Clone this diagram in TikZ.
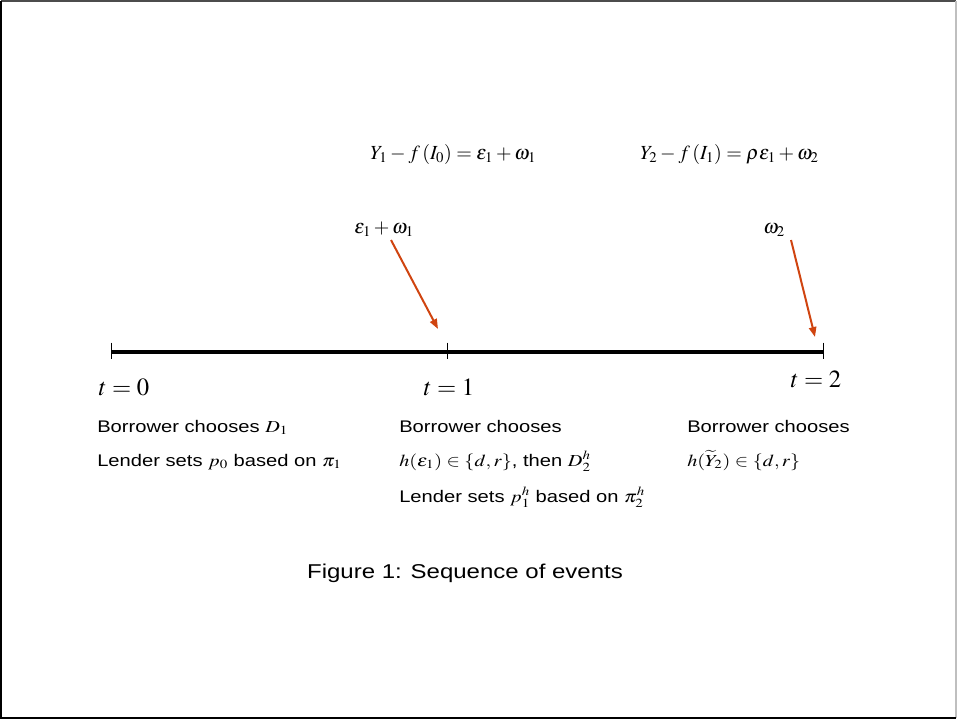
\documentclass[tikz,border=0pt]{standalone}
\usepackage{graphicx}
\usepackage{mathptmx}
\usepackage[no-math]{fontspec}
\setmainfont{Liberation Sans}
\usetikzlibrary{arrows.meta}
\definecolor{arrowred}{RGB}{208,68,16}
\newcommand{\hstretch}[1]{\scalebox{1.2}[1.0]{#1}}
\tikzset{
  body/.style={anchor=base west, inner sep=0pt, font=\fontsize{12.6}{15}\selectfont},
  eqn/.style={anchor=base west, inner sep=0pt, font=\fontsize{15}{18}\selectfont},
  tlabel/.style={anchor=base, inner sep=0pt, font=\fontsize{18.5}{22}\selectfont},
  shock/.style={draw=arrowred, line width=1.5pt, -{Triangle[length=7.5pt,width=5.5pt]}},
  tick/.style={draw=black, line width=0.6pt}
}
\begin{document}
\begin{tikzpicture}[x=0.75pt,y=-0.75pt]
\useasboundingbox (0,0) rectangle (957,719);
\coordinate (c1) at (1,1);
\coordinate (c2) at (956,1);
\coordinate (c3) at (956,718);
\coordinate (c4) at (1,718);
\draw[line width=2pt, black!70] (c1) -- (c2);
\draw[line width=1pt, black!25] (c2) -- (c3);
\draw[line width=1.6pt, black] (c3) -- (c4) -- (c1);

% timeline
\coordinate (p0) at (111,352);
\coordinate (p1) at (447,352);
\coordinate (p2) at (823,352);
\draw[line width=2.3pt] (p0) -- (p2);
\foreach \p in {p0,p1,p2} \draw[tick] ([yshift=7pt]\p) -- ([yshift=-5.5pt]\p);

% time labels
\node[tlabel] (t0) at (124,395) {$t=0$};
\node[tlabel] (t1) at (449,395) {$t=1$};
\node[tlabel] (t2) at (816,387) {$t=2$};

% equations
\node[eqn] (eq1) at (370,159) {$Y_1-f\,(I_0)=\varepsilon_1+\omega_1$};
\node[eqn] (eq2) at (640,159) {$Y_2-f\,(I_1)=\rho\varepsilon_1+\omega_2$};

% shocks
\node[eqn] (s1) at (354,233) {$\varepsilon_1+\omega_1$};
\node[eqn] (s2) at (763,233) {$\omega_2$};
\coordinate (a1s) at (391,240);
\coordinate (a1e) at (438,329);
\coordinate (a2s) at (791,240);
\coordinate (a2e) at (815,337);
\draw[shock] (a1s) -- (a1e);
\draw[shock] (a2s) -- (a2e);

% descriptions
\node[body] (l1) at (97,432) {\hstretch{Borrower chooses $D_1$}};
\node[body] (l2) at (97,466) {\hstretch{Lender sets $p_0$ based on $\pi_1$}};
\node[body] (m1) at (399,432) {\hstretch{Borrower chooses}};
\node[body] (m2) at (399,466) {\hstretch{$h(\varepsilon_1)\in\{d,r\}$, then $D_2^h$}};
\node[body] (m3) at (399,502) {\hstretch{Lender sets $p_1^h$ based on $\pi_2^h$}};
\node[body] (r1) at (687,432) {\hstretch{Borrower chooses}};
\node[body] (r2) at (687,466) {\hstretch{$h(\widetilde{Y}_2)\in\{d,r\}$}};

% caption
\node[anchor=base, inner sep=0pt, font=\fontsize{15}{18}\selectfont] (cap) at (465,578) {\hstretch{Figure 1: Sequence of events}};
\end{tikzpicture}
\end{document}
